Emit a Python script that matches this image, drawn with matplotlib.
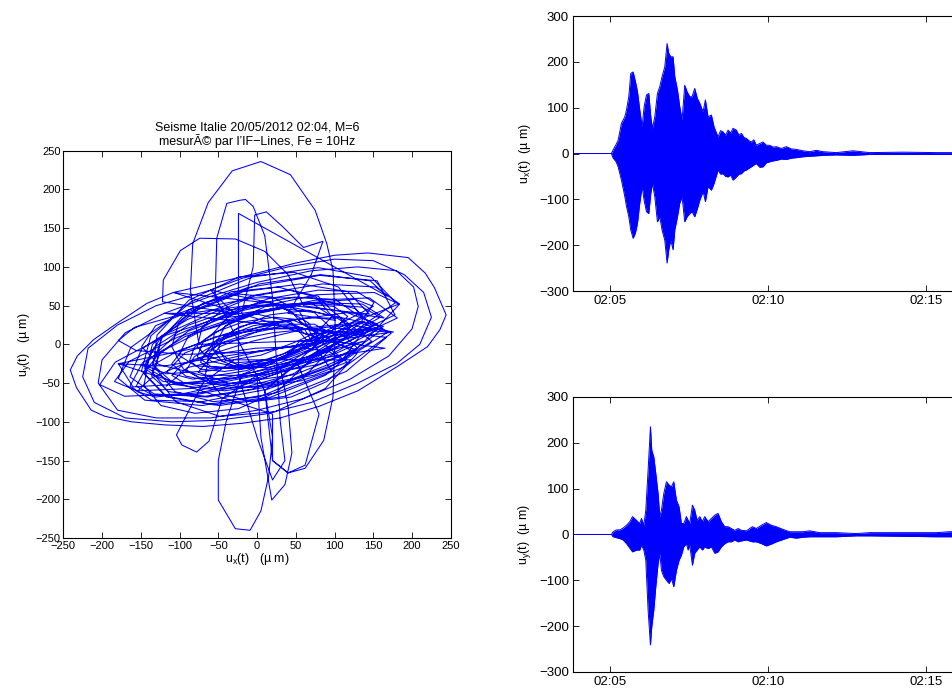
import numpy as np
import matplotlib
matplotlib.use("Agg")
import matplotlib.pyplot as plt

plt.rcParams['font.family'] = ['Liberation Sans', 'DejaVu Sans']
plt.rcParams['mathtext.fontset'] = 'custom'
plt.rcParams['mathtext.rm'] = 'Liberation Sans'
plt.rcParams['mathtext.it'] = 'Liberation Sans'

BLUE = '#0000ff'

# ---- time series envelopes (minutes after 02:00, um) ----
t_ux = [3.0, 5.05, 5.104, 5.2, 5.263, 5.368, 5.474, 5.526, 5.6, 5.663,
        5.737, 5.81, 5.874, 5.947, 6.021, 6.084, 6.158, 6.232, 6.295, 6.347,
        6.421, 6.505, 6.579, 6.652, 6.737, 6.81, 6.863, 6.926, 7.0, 7.053,
        7.137, 7.211, 7.284, 7.368, 7.442, 7.526, 7.6, 7.684, 7.768, 7.842,
        7.947, 8.021, 8.105, 8.21, 8.295, 8.421, 8.5, 8.579, 8.66, 8.737,
        8.82, 8.895, 9.0, 9.08, 9.158, 9.24, 9.316, 9.4, 9.474, 9.55,
        9.632, 9.74, 9.842, 9.95, 10.053, 10.16, 10.263, 10.42, 10.579, 10.74,
        10.895, 11.1, 11.316, 11.526, 11.737, 12.158, 12.684, 13.211, 14.263, 15.316,
        16.5, 18.0]
ux_up = [0, 0, 8, 20, 29, 66, 80, 95, 124, 175,
         178, 157, 135, 95, 58, 102, 128, 131, 80, 55,
         80, 131, 146, 168, 189, 240, 219, 211, 211, 168,
         139, 102, 73, 149, 135, 124, 124, 142, 120, 110,
         91, 117, 80, 84, 58, 36, 50, 47, 40, 51,
         45, 55, 51, 40, 44, 35, 33, 28, 25, 30,
         18, 22, 25, 18, 18, 14, 15, 11, 15, 10,
         9, 6, 4, 7, 4, 2, 6, 2, 3, 2,
         2, 2]
ux_low = [0, 0, -10, -18, -29, -58, -94, -115, -138, -167,
          -185, -173, -152, -108, -72, -102, -127, -131, -87, -65,
          -94, -149, -138, -167, -189, -239, -210, -189, -210, -167,
          -138, -108, -94, -149, -138, -131, -127, -138, -120, -102,
          -83, -105, -72, -80, -65, -36, -45, -44, -50, -51,
          -47, -58, -51, -45, -44, -38, -36, -32, -29, -25,
          -22, -30, -29, -20, -18, -16, -15, -12, -13, -10,
          -9, -7, -6, -5, -4, -3, -4, -2, -2, -2,
          -2, -2]

t_uy = [3.0, 5.05, 5.105, 5.21, 5.316, 5.42, 5.526, 5.632, 5.716, 5.842,
        5.947, 6.0, 6.074, 6.137, 6.21, 6.284, 6.326, 6.39, 6.453, 6.526,
        6.579, 6.632, 6.705, 6.79, 6.874, 6.947, 7.021, 7.105, 7.19, 7.263,
        7.337, 7.42, 7.474, 7.526, 7.611, 7.684, 7.758, 7.842, 7.926, 8.0,
        8.105, 8.211, 8.316, 8.421, 8.526, 8.632, 8.737, 8.842, 8.948, 9.053,
        9.16, 9.32, 9.505, 9.632, 9.789, 9.947, 10.105, 10.263, 10.474, 10.684,
        10.895, 11.105, 11.316, 11.632, 12.158, 12.789, 13.211, 14.263, 15.316, 15.737,
        16.5, 18.0]
uy_up = [0, 0, 6, 10, 10, 14, 20, 28, 39, 31,
         24, 35, 20, 53, 140, 235, 184, 169, 133, 89,
         39, 53, 89, 115, 108, 104, 115, 75, 60, 24,
         24, 39, 31, 24, 64, 53, 31, 39, 28, 39,
         28, 35, 42, 46, 28, 17, 17, 13, 9, 13,
         9, 8, 17, 13, 20, 26, 20, 17, 11, 6,
         6, 6, 8, 4, 4, 2, 4, 4, 4, 6,
         5, 5]
uy_low = [0, 0, -5, -7, -9, -12, -20, -30, -38, -34,
          -34, -23, -34, -56, -165, -241, -201, -165, -114, -63,
          -41, -78, -92, -100, -107, -96, -114, -78, -56, -45,
          -27, -20, -34, -23, -67, -41, -34, -27, -34, -27,
          -31, -27, -41, -38, -27, -20, -16, -16, -12, -16,
          -14, -12, -16, -16, -20, -25, -21, -16, -11, -6,
          -8, -6, -5, -5, -5, -3, -3, -4, -5, -5,
          -5, -5]

time_ticks = [5, 10, 15]
time_labels = ['02:05', '02:10', '02:15']

# ---- particle orbit u_x vs u_y, loops (um) ----
orbit_big1 = [(-108, 67), (-142, 53), (-181, 27), (-211, 6), (-232, -15), (-241, -33),
              (-233, -56), (-214, -85), (-196, -93), (-162, -100), (-119, -104), (-70, -106),
              (-20, -102), (30, -95), (80, -80), (130, -60), (182, -28), (220, -3),
              (236, 19), (244, 38), (229, 73), (217, 92), (195, 112), (143, 118),
              (100, 115), (50, 105), (0, 92), (-50, 80), (-108, 67)]
orbit_big2 = [(-60, 70), (-130, 50), (-180, 25), (-218, -5), (-225, -42), (-210, -75),
              (-170, -95), (-110, -100), (-50, -98), (10, -90), (70, -75), (130, -50),
              (180, -25), (210, 0), (225, 35), (215, 67), (190, 90), (150, 108),
              (100, 110), (40, 100), (-20, 85), (-60, 70)]
orbit_big3 = [(-120, 40), (-170, 15), (-200, -20), (-205, -50), (-180, -85), (-130, -95),
              (-60, -95), (0, -85), (60, -70), (120, -45), (170, -15), (200, 20),
              (208, 49), (202, 74), (180, 95), (130, 100), (70, 95), (0, 80),
              (-60, 62), (-120, 40)]
orbit_tall = [(-75, 0), (-86, 70), (-83, 130), (-63, 183), (-32, 224), (5, 236),
              (43, 219), (75, 173), (90, 130), (98, 95), (101, 20), (98, -68),
              (86, -124), (62, -160), (40, -166), (20, -150), (10, -60)]
orbit_bottom = [(-20, -40), (-40, -100), (-50, -150), (-50, -201), (-28, -238), (-9, -240),
                (5, -215), (15, -170), (20, -120), (10, -60)]
orbit_vert2 = [(-54, 61), (-52, 137), (-39, 182), (-22, 186), (-15, 187), (-5, 178),
               (10, 140), (20, 60), (25, -20), (30, -100), (36, -150), (20, -175),
               (0, -120), (-24, -40), (-24, 60), (-24, 169)]
orbit_left_top = [(-30, 40), (-122, 55), (-121, 83), (-99, 121), (-74, 137), (-28, 136),
                  (10, 120), (40, 90), (60, 50)]
orbit_right_top = [(-20, 40), (-5, 100), (-3, 167), (12, 171), (34, 151), (60, 125),
                   (85, 133), (70, 90), (40, 40)]
orbit_lobes = [(-30, -20), (-70, -50), (-104, -117), (-97, -130), (-78, -139), (-62, -125),
               (-45, -70), (0, -40), (5, -120), (19, -201), (36, -181), (45, -140),
               (40, -80), (30, -30), (50, -20), (80, -90), (62, -156), (40, -166),
               (20, -150), (20, -90)]
orbit_narrow = [(-179, -25), (-120, -28), (-40, -15), (60, 0), (176, 16), (120, 25),
                (20, 15), (-80, -5), (-179, -25), (-160, -55), (-80, -50), (0, -35),
                (100, -15), (165, -5), (90, 5), (0, -10), (-90, -30), (-117, -54)]
orbit_core1 = [(145, 39), (117, 68), (56, 78), (-18, 68), (-88, 40), (-135, 0),
               (-145, -39), (-117, -68), (-56, -78), (18, -68), (88, -40), (135, 0),
               (184, 52), (153, 74), (84, 78), (-6, 63), (-90, 32), (-149, -6),
               (-164, -42), (-133, -64), (-64, -68), (26, -53), (110, -22), (169, 16),
               (96, 21), (74, 41), (27, 47), (-33, 38), (-89, 17), (-126, -13),
               (-136, -41), (-114, -61), (-67, -67), (-7, -58), (49, -37), (86, -7)]
orbit_core2 = [(117, 36), (99, 49), (60, 52), (11, 44), (-36, 26), (-69, 5),
               (-77, -16), (-59, -29), (-20, -32), (29, -24), (76, -6), (109, 15),
               (67, 21), (53, 32), (22, 35), (-18, 29), (-56, 15), (-81, -4),
               (-87, -21), (-73, -32), (-42, -35), (-2, -29), (36, -15), (61, 4),
               (183, 52), (151, 67), (77, 64), (-22, 43), (-117, 12), (-183, -23),
               (-203, -52), (-171, -67), (-97, -64), (2, -43), (97, -12), (163, 23)]
orbit_core3 = [(135, 36), (105, 74), (48, 93), (-23, 87), (-88, 57), (-129, 12),
               (-135, -36), (-105, -74), (-48, -93), (23, -87), (88, -57), (129, -12),
               (58, 26), (45, 42), (20, 51), (-10, 49), (-38, 35), (-55, 16),
               (-58, -6), (-45, -22), (-20, -31), (10, -29), (38, -15), (55, 4),
               (155, 21), (131, 28), (71, 22), (-6, 4), (-83, -20), (-137, -44),
               (-155, -61), (-131, -68), (-71, -62), (6, -44), (83, -20), (137, 4)]
orbit_core4 = [(151, 54), (129, 68), (79, 70), (15, 59), (-47, 36), (-89, 10),
               (-101, -14), (-79, -28), (-29, -30), (35, -19), (97, 4), (139, 30),
               (66, 3), (44, 29), (0, 39), (-56, 33), (-106, 11), (-140, -21),
               (-146, -53), (-124, -79), (-80, -89), (-24, -83), (26, -61), (60, -29),
               (179, 54), (147, 87), (79, 99), (-6, 87), (-85, 55), (-137, 11),
               (-149, -34), (-117, -67), (-49, -79), (36, -67), (115, -35), (167, 9)]
orbit_core5 = [(68, 23), (44, 32), (-5, 24), (-52, 6), (-68, -13), (-44, -22),
               (5, -14), (52, 4), (77, 16), (43, 25), (-26, 14), (-93, -11),
               (-117, -36), (-83, -45), (-14, -34), (53, -9), (97, 36), (69, 54),
               (11, 49), (-41, 24), (-57, -6), (-29, -24), (29, -19), (81, 6),
               (66, 28), (27, 51), (-52, 43), (-123, 11), (-146, -28), (-107, -51),
               (-28, -43), (43, -11), (156, 26), (116, 41), (31, 29), (-48, -3),
               (-76, -36), (-36, -51), (49, -39), (128, -7)]
orbit_core6 = [(178, 38), (155, 82), (81, 89), (-13, 73), (-103, 39), (-163, -4),
               (-179, -44), (-145, -72), (-71, -79), (23, -63), (113, -29), (173, 14),
               (125, 41), (101, 58), (48, 61), (-22, 48), (-88, 25), (-133, -4),
               (-145, -31), (-121, -48), (-68, -51), (2, -38), (68, -15), (113, 14),
               (121, 23), (103, 34), (61, 34), (7, 24), (-45, 6), (-81, -16),
               (-91, -33), (-73, -44), (-31, -44), (23, -34), (75, -16), (111, 6)]
orbit_core7 = [(164, 34), (136, 52), (71, 54), (-13, 38), (-93, 10), (-148, -24),
               (-164, -54), (-136, -72), (-71, -74), (13, -58), (93, -30), (148, 4),
               (97, 43), (79, 62), (43, 70), (-2, 63), (-43, 46), (-71, 22),
               (-77, -3), (-59, -22), (-23, -30), (22, -23), (63, -6), (91, 18),
               (96, 14), (74, 26), (25, 26), (-39, 14), (-101, -8), (-144, -32),
               (-156, -54), (-134, -66), (-85, -66), (-21, -54), (41, -32), (84, -8)]
orbit_core8 = [(168, 62), (146, 82), (82, 90), (3, 78), (-72, 48), (-122, 10),
               (-135, -26), (-106, -52), (-42, -60), (37, -48), (112, -18), (162, 20),
               (63, 13), (51, 21), (25, 21), (-10, 14), (-43, 3), (-67, -11),
               (-73, -23), (-61, -31), (-35, -31), (0, -24), (33, -13), (57, 1),
               (150, 49), (127, 58), (70, 54), (-3, 39), (-74, 16), (-125, -10),
               (-140, -29), (-117, -38), (-60, -34), (13, -19), (84, 4), (135, 30)]
orbit_core9 = [(101, 31), (76, 61), (27, 74), (-33, 68), (-89, 44), (-124, 7),
               (-131, -31), (-106, -61), (-57, -74), (3, -68), (59, -44), (94, -7),
               (181, 34), (145, 60), (75, 57), (-15, 39), (-103, 9), (-165, -22),
               (-184, -48), (-155, -60), (-85, -57), (5, -39), (93, -9), (155, 22),
               (127, 11), (107, 34), (66, 44), (16, 38), (-30, 18), (-61, -10),
               (-67, -41), (-47, -64), (-6, -74), (44, -68), (90, -48), (121, -20)]
orbit_flat1 = [(149, 23), (127, 46), (71, 60), (-4, 60), (-79, 46), (-131, 24),
               (-149, -3), (-127, -26), (-71, -40), (4, -40), (79, -26), (131, -4),
               (130, -5), (112, 11), (67, 20), (7, 20), (-53, 10), (-96, -7),
               (-110, -25), (-92, -41), (-47, -50), (13, -50), (73, -40), (116, -23),
               (70, 13), (55, 42), (20, 61), (-25, 65), (-70, 53), (-101, 28),
               (-110, -3), (-95, -32), (-60, -51), (-15, -55), (30, -43), (61, -18)]
orbit_flat2 = [(159, 35), (136, 48), (73, 53), (-13, 50), (-97, 39), (-158, 22),
               (-179, 5), (-156, -8), (-93, -13), (-7, -10), (77, 1), (138, 18),
               (110, -20), (94, -10), (53, -3), (-2, -5), (-57, -13), (-96, -26),
               (-110, -40), (-94, -50), (-53, -57), (2, -55), (57, -47), (96, -34),
               (70, 5), (61, 20), (38, 29), (7, 30), (-22, 23), (-43, 10),
               (-50, -5), (-41, -20), (-18, -29), (13, -30), (42, -23), (63, -10)]

orbit_segments = [orbit_core5, orbit_big1, orbit_core1, orbit_flat1, orbit_core6,
                  orbit_tall, orbit_core2, orbit_big2, orbit_left_top, orbit_core7,
                  orbit_flat2, orbit_core3, orbit_bottom, orbit_vert2, orbit_core8,
                  orbit_core4, orbit_big3, orbit_right_top, orbit_core9, orbit_lobes,
                  orbit_narrow]
orbit_x = [p[0] for seg in orbit_segments for p in seg]
orbit_y = [p[1] for seg in orbit_segments for p in seg]

fig = plt.figure(figsize=(9.52, 6.88), dpi=100)

# left: orbit
ax = fig.add_axes([0.0665, 0.218, 0.407, 0.563])
ax.plot(orbit_x, orbit_y, color=BLUE, lw=0.75)
ax.set_xlim(-250, 250)
ax.set_ylim(-250, 250)
ax.set_xticks(np.arange(-250, 251, 50))
ax.set_yticks(np.arange(-250, 251, 50))
ax.tick_params(direction='in', top=True, right=True, labelsize=8, length=4, width=0.6, pad=2)
for s in ax.spines.values():
    s.set_linewidth(0.8)
ax.set_title("Seisme Italie 20/05/2012 02:04, M=6\nmesurÃ© par l’IF−Lines, Fe = 10Hz",
             fontsize=9, pad=4, linespacing=1.1)
ax.set_xlabel(r'u$_\mathrm{x}$(t)   (µ m)', fontsize=9, labelpad=0)
ax.set_ylabel(r'u$_\mathrm{y}$(t)   (µ m)', fontsize=9, labelpad=2)

# right: time series
x_left, x_right = 3.84, 17.32
panels = [
    (0.577, t_ux, ux_up, ux_low, r'u$_\mathrm{x}$(t)  (µ m)'),
    (0.0233, t_uy, uy_up, uy_low, r'u$_\mathrm{y}$(t)  (µ m)'),
]
for bottom, t, up, low, lab in panels:
    axr = fig.add_axes([0.602, bottom, 0.448, 0.3997])
    axr.fill_between(t, low, up, color=BLUE, lw=0)
    axr.plot(t, up, color=BLUE, lw=0.7)
    axr.plot(t, low, color=BLUE, lw=0.7)
    axr.set_xlim(x_left, x_right)
    axr.set_ylim(-300, 300)
    axr.set_xticks(time_ticks)
    axr.set_xticklabels(time_labels)
    axr.set_yticks(np.arange(-300, 301, 100))
    axr.tick_params(direction='in', top=True, right=True, labelsize=9.5, length=4, width=0.6, pad=3)
    for s in axr.spines.values():
        s.set_linewidth(0.8)
    axr.set_ylabel(lab, fontsize=9, labelpad=4)

fig.savefig('out.png', dpi=100)
